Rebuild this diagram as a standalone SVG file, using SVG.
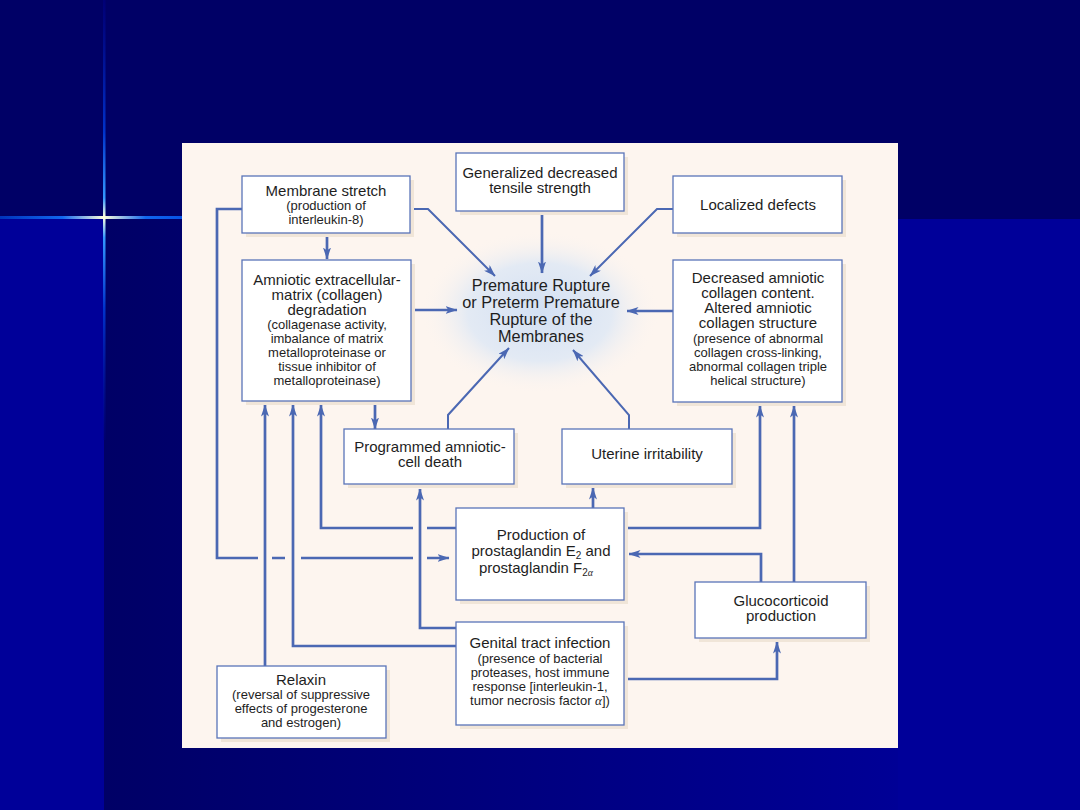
<svg xmlns="http://www.w3.org/2000/svg" width="1080" height="810" viewBox="0 0 1080 810">
<defs>
<linearGradient id="lowbg" x1="104" y1="0" x2="900" y2="0" gradientUnits="userSpaceOnUse">
<stop offset="0" stop-color="#000066"/><stop offset="1" stop-color="#000096"/>
</linearGradient>
<linearGradient id="vflare" x1="0" y1="0" x2="0" y2="440" gradientUnits="userSpaceOnUse">
<stop offset="0" stop-color="#000080" stop-opacity="0.6"/>
<stop offset="0.3" stop-color="#0033cc"/>
<stop offset="0.45" stop-color="#3399ff"/>
<stop offset="0.493" stop-color="#ffffdd"/>
<stop offset="0.54" stop-color="#3399ff"/>
<stop offset="0.7" stop-color="#0033cc"/>
<stop offset="1" stop-color="#000080" stop-opacity="0.4"/>
</linearGradient>
<linearGradient id="hflare" x1="0" y1="0" x2="208" y2="0" gradientUnits="userSpaceOnUse">
<stop offset="0" stop-color="#0033bb"/>
<stop offset="0.3" stop-color="#1166ee"/>
<stop offset="0.5" stop-color="#ffffdd"/>
<stop offset="0.7" stop-color="#1166ee"/>
<stop offset="1" stop-color="#0044dd"/>
</linearGradient>
<radialGradient id="glow" cx="540" cy="312" r="120" gradientUnits="userSpaceOnUse" gradientTransform="translate(540 312) scale(1 0.68) translate(-540 -312)">
<stop offset="0" stop-color="#d3e0f3"/>
<stop offset="0.6" stop-color="#e3eaf4"/>
<stop offset="1" stop-color="#fdf5ef" stop-opacity="0"/>
</radialGradient>
<marker id="ah" viewBox="0 0 12 8" refX="11.5" refY="4" markerWidth="12" markerHeight="8" markerUnits="userSpaceOnUse" orient="auto">
<path d="M0,0 L12,4 L0,8 L3,4 z" fill="#4b68b3"/>
</marker>
<style>
.box{fill:#ffffff;stroke:#5a74b8;stroke-width:1.3}
.sh{fill:#f0e5d8}
.t{font-family:"Liberation Sans",Arial,sans-serif;font-size:15px;fill:#1e1e1e;text-anchor:middle}
.p{font-family:"Liberation Sans",Arial,sans-serif;font-size:13px;fill:#1e1e1e;text-anchor:middle}
.c{font-family:"Liberation Sans",Arial,sans-serif;font-size:16.3px;fill:#1e1e1e;text-anchor:middle}
.ln{fill:none;stroke:#4b68b3;stroke-width:2.7;marker-end:url(#ah)}
.dg{fill:none;stroke:#4b68b3;stroke-width:2;marker-end:url(#ah)}
</style>
</defs>
<!-- background -->
<rect width="1080" height="810" fill="#000066"/>
<rect x="0" y="219" width="104" height="591" fill="#000099"/>
<rect x="104" y="219" width="976" height="591" fill="url(#lowbg)"/>
<rect x="898" y="219" width="182" height="591" fill="#000099"/>
<rect x="103" y="0" width="2.5" height="440" fill="url(#vflare)"/>
<rect x="0" y="216" width="208" height="3" fill="url(#hflare)"/>
<!-- panel -->
<rect x="182" y="143" width="716" height="605" fill="#fdf5ef"/>
<ellipse cx="540" cy="312" rx="125" ry="85" fill="url(#glow)"/>

<g id="connectors">
<path class="ln" d="M327,233 V259"/>
<path class="dg" d="M410,209 H428 L495,276"/>
<path class="ln" d="M411,310 H457"/>
<path class="ln" d="M542,211 V273"/>
<path class="dg" d="M673,209 H657 L590,276"/>
<path class="ln" d="M673,311 H627"/>
<path class="dg" d="M448,429 V415 L509,348"/>
<path class="dg" d="M629,429 V415 L573,350"/>
<path class="ln" d="M375,401 V429"/>
<path class="ln" d="M242,209 H217 V558 H258 M272,558 H285 M301,558 H413 M427,558 H449"/>
<path class="ln" d="M265,666 V405"/>
<path class="ln" d="M456,646 H293 V405"/>
<path class="ln" d="M456,528 H427 M413,528 H321 V405"/>
<path class="ln" d="M456,628 H420 V489"/>
<path class="ln" d="M593,508 V488"/>
<path class="ln" d="M624,528 H760 V406"/>
<path class="ln" d="M794,582 V406"/>
<path class="ln" d="M761,582 V554 H629"/>
<path class="ln" d="M624,679 H777 V642"/>
</g>

<g id="premature">
<text class="c" x="541" y="291">Premature Rupture</text>
<text class="c" x="541" y="308">or Preterm Premature</text>
<text class="c" x="541" y="325">Rupture of the</text>
<text class="c" x="541" y="342">Membranes</text>
</g>

<g id="membrane-stretch">
<rect class="sh" x="246" y="180" width="168" height="57"/>
<rect class="box" x="242" y="176" width="168" height="57"/>
<text class="t" x="326" y="196">Membrane stretch</text>
<text class="p" x="326" y="210">(production of</text>
<text class="p" x="326" y="224">interleukin-8)</text>
</g>

<g id="generalized">
<rect class="sh" x="460" y="157" width="168" height="58"/>
<rect class="box" x="456" y="153" width="168" height="58"/>
<text class="t" x="540" y="178">Generalized decreased</text>
<text class="t" x="540" y="193">tensile strength</text>
</g>

<g id="localized">
<rect class="sh" x="677" y="180" width="169" height="57"/>
<rect class="box" x="673" y="176" width="169" height="57"/>
<text class="t" x="758" y="210">Localized defects</text>
</g>

<g id="amniotic-ecm">
<rect class="sh" x="246" y="264" width="169" height="141"/>
<rect class="box" x="242" y="260" width="169" height="141"/>
<text class="t" x="327" y="285">Amniotic extracellular-</text>
<text class="t" x="327" y="300">matrix (collagen)</text>
<text class="t" x="327" y="315">degradation</text>
<text class="p" x="327" y="329">(collagenase activity,</text>
<text class="p" x="327" y="343">imbalance of matrix</text>
<text class="p" x="327" y="357">metalloproteinase or</text>
<text class="p" x="327" y="371">tissue inhibitor of</text>
<text class="p" x="327" y="385">metalloproteinase)</text>
</g>

<g id="decreased-collagen">
<rect class="sh" x="677" y="264" width="169" height="142"/>
<rect class="box" x="673" y="260" width="169" height="142"/>
<text class="t" x="758" y="283">Decreased amniotic</text>
<text class="t" x="758" y="298">collagen content.</text>
<text class="t" x="758" y="313">Altered amniotic</text>
<text class="t" x="758" y="328">collagen structure</text>
<text class="p" x="758" y="343">(presence of abnormal</text>
<text class="p" x="758" y="357">collagen cross-linking,</text>
<text class="p" x="758" y="371">abnormal collagen triple</text>
<text class="p" x="758" y="385">helical structure)</text>
</g>

<g id="programmed-death">
<rect class="sh" x="348" y="433" width="170" height="55"/>
<rect class="box" x="344" y="429" width="170" height="55"/>
<text class="t" x="430" y="452">Programmed amniotic-</text>
<text class="t" x="430" y="467">cell death</text>
</g>

<g id="uterine">
<rect class="sh" x="566" y="433" width="170" height="55"/>
<rect class="box" x="562" y="429" width="170" height="55"/>
<text class="t" x="647" y="459">Uterine irritability</text>
</g>

<g id="prostaglandin">
<rect class="sh" x="460" y="512" width="168" height="92"/>
<rect class="box" x="456" y="508" width="168" height="92"/>
<text class="t" x="541" y="540">Production of</text>
<text class="t" x="541" y="556">prostaglandin E<tspan font-size="10" dy="3">2</tspan><tspan dy="-3"> and</tspan></text>
<text class="t" x="536" y="573">prostaglandin F<tspan font-size="10" dy="3">2<tspan font-style="italic" font-family="Liberation Serif, serif">α</tspan></tspan></text>
</g>

<g id="glucocorticoid">
<rect class="sh" x="699" y="586" width="171" height="56"/>
<rect class="box" x="695" y="582" width="171" height="56"/>
<text class="t" x="781" y="606">Glucocorticoid</text>
<text class="t" x="781" y="621">production</text>
</g>

<g id="genital-infection">
<rect class="sh" x="460" y="626" width="168" height="103"/>
<rect class="box" x="456" y="622" width="168" height="103"/>
<text class="t" x="540" y="648">Genital tract infection</text>
<text class="p" x="540" y="663">(presence of bacterial</text>
<text class="p" x="540" y="677">proteases, host immune</text>
<text class="p" x="540" y="691">response [interleukin-1,</text>
<text class="p" x="540" y="705">tumor necrosis factor <tspan font-style="italic" font-family="Liberation Serif, serif">α</tspan>])</text>
</g>

<g id="relaxin">
<rect class="sh" x="221" y="670" width="169" height="72"/>
<rect class="box" x="217" y="666" width="169" height="72"/>
<text class="t" x="301" y="685">Relaxin</text>
<text class="p" x="301" y="699">(reversal of suppressive</text>
<text class="p" x="301" y="713">effects of progesterone</text>
<text class="p" x="301" y="727">and estrogen)</text>
</g>
</svg>
